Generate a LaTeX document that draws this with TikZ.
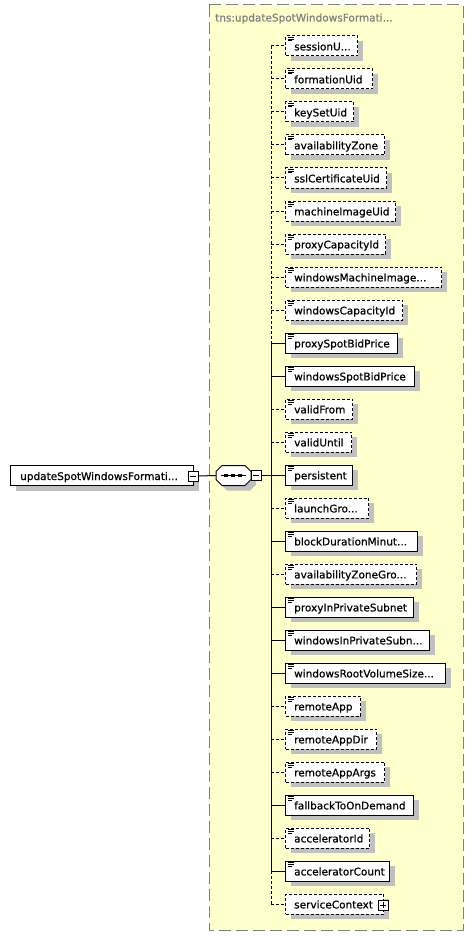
\documentclass[tikz,border=0pt]{standalone}
\usepackage{fontspec}
\setmainfont{DejaVu Sans}
\newfontfamily\elfont{DejaVu Sans}[FakeBold=0.7]
\usetikzlibrary{shadows}
\definecolor{seqbg}{RGB}{255,255,204}
\definecolor{shadowgray}{RGB}{192,192,192}
\definecolor{framegray}{RGB}{128,128,128}
\newcommand\trdots{...}
\begin{document}
\begin{tikzpicture}[x=1pt,y=-1pt,
  box/.style={draw=black, line width=1pt, fill=white, rectangle, inner sep=0pt,
    minimum height=20pt, anchor=west,
    general shadow={fill=shadowgray, shadow xshift=5pt, shadow yshift=-5pt}},
  opt/.style={dash pattern=on 3pt off 2pt},
  man/.style={},
  conn/.style={line width=1pt},
  lbl/.style={anchor=base west, inner sep=0pt, font=\elfont\fontsize{10.5pt}{12pt}\selectfont},
  sq/.style={draw=black, line width=1pt, fill=white, rectangle, inner sep=0pt, minimum size=10pt},
  icon/.style={line width=0.8pt},
]
\useasboundingbox (0,0) rectangle (474,936);
% sequence frame
\draw[draw=framegray, fill=seqbg, line width=1pt, dash pattern=on 12pt off 5pt] (209,5) rectangle (463,930);
\node[lbl, text=framegray] (title) at (215,21.5) {tns:updateSpotWindowsFormati\trdots};
% root element
\node[box, minimum width=183pt] (root) at (10,475.5) {};
\node[lbl] (rootlbl) at (20,480) {updateSpotWindowsFormati\trdots};
\node[sq] (rootminus) at (193,476) {};
\draw[conn] ([xshift=2.5pt]rootminus.west) -- ([xshift=-2.5pt]rootminus.east);
% compositor (octagon)
\fill[shadowgray] (227,470.5) -- (250,470.5) -- (256,476.5) -- (256,484.5) -- (250,490.5) -- (227,490.5) -- (221,484.5) -- (221,476.5) -- cycle;
\draw[line width=1pt, fill=white] (222,465.5) -- (245,465.5) -- (251,471.5) -- (251,479.5) -- (245,485.5) -- (222,485.5) -- (216,479.5) -- (216,471.5) -- cycle;
\coordinate (seqW) at (216,475.5);
\coordinate (seqE) at (251,475.5);
\draw[conn] (221,475.5) -- (246,475.5);
\foreach \dx in {226,233,240} {\fill (\dx-1.7,473.8) rectangle (\dx+1.7,477.2);}
\node[sq] (seqminus) at (256,475.5) {};
\draw[conn] ([xshift=2.5pt]seqminus.west) -- ([xshift=-2.5pt]seqminus.east);
\draw[conn] (rootminus.east) -- (seqW);
\coordinate (join) at (271,475.5);
\draw[conn] (seqminus.east) -- (join);
% children
\foreach \i/\t/\r/\s in {
 0/sessionU\trdots/357/opt,
 1/formationUid/372/opt,
 2/keySetUid/353/opt,
 3/availabilityZone/384/opt,
 4/sslCertificateUid/386/opt,
 5/machineImageUid/395/opt,
 6/proxyCapacityId/385/opt,
 7/windowsMachineImage\trdots/441/opt,
 8/windowsCapacityId/402/opt,
 9/proxySpotBidPrice/397/man,
 10/windowsSpotBidPrice/414/man,
 11/validFrom/352/opt,
 12/validUntil/351/opt,
 13/persistent/352/man,
 14/launchGro\trdots/368/opt,
 15/blockDurationMinut\trdots/417/man,
 16/availabilityZoneGro\trdots/416/opt,
 17/proxyInPrivateSubnet/413/man,
 18/windowsInPrivateSubn\trdots/429/man,
 19/windowsRootVolumeSize\trdots/445/man,
 20/remoteApp/360/opt,
 21/remoteAppDir/376/opt,
 22/remoteAppArgs/384/opt,
 23/fallbackToOnDemand/413/man,
 24/acceleratorId/369/opt,
 25/acceleratorCount/389/man,
 26/serviceContext/383/opt} {
  \pgfmathsetmacro\yy{46+33*\i}
  \pgfmathsetmacro\ww{\r-285}
  \coordinate (v\i) at (271,\yy);
  \node[box, \s, minimum width=\ww pt] (e\i) at (285,\yy) {};
  \draw[conn, \s] (v\i) -- (e\i.west);
  \node[lbl] (t\i) at (294,\yy+4.4) {\t};
  \ifnum\i<26
    \draw[icon] (288,\yy-8.5) -- (294,\yy-8.5);
    \draw[icon] (288,\yy-6.8) -- (294,\yy-6.8);
    \draw[icon] (288,\yy-5.1) -- (292,\yy-5.1);
  \fi
}
% vertical spine
\draw[conn, opt] (v0) -- (v9);
\draw[conn] (v9) -- (v25);
\draw[conn, opt] (v25) -- (v26);
% expand icon of serviceContext
\node[sq] (plus) at (383,905) {};
\draw[conn] ([xshift=2.5pt]plus.west) -- ([xshift=-2.5pt]plus.east);
\draw[conn] ([yshift=-2.5pt]plus.north) -- ([yshift=2.5pt]plus.south);
\end{tikzpicture}
\end{document}
